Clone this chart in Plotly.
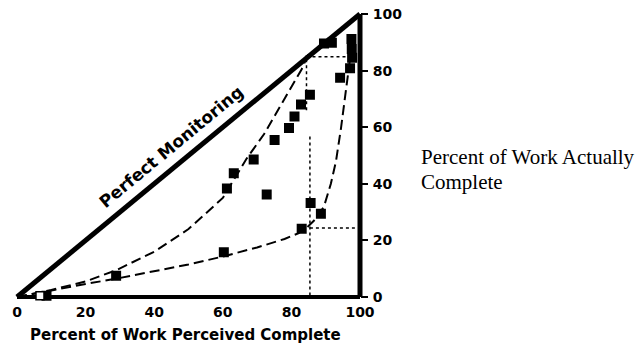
import math
import plotly.graph_objects as go

# Observed projects: percent of work perceived complete vs. actually complete
perceived = [8.6, 28.9, 60.3, 61.2, 63.2, 69.0, 72.8, 75.1, 79.3, 80.9, 82.8, 85.4,
             83.0, 85.6, 88.6, 89.5, 91.8, 94.2, 97.1, 97.5, 97.6, 97.7]
actual = [0.4, 7.5, 15.8, 38.3, 43.7, 48.6, 36.2, 55.5, 59.7, 63.8, 68.0, 71.5,
          24.1, 33.2, 29.4, 89.6, 89.8, 77.5, 80.8, 91.2, 87.6, 84.5]
open_perceived = [6.7]
open_actual = [0.4]

# Fitted trend curves (dashed)
upper_x = [0, 5, 10, 20, 29, 40, 50, 55, 60, 63, 67, 72, 76, 80, 83, 85]
upper_y = [0, 1.2, 2.5, 5.5, 9.5, 16, 24, 29.5, 35, 41, 49, 57.5, 66, 74.5, 80.5, 86]
lower_x = [0, 5, 10, 20, 29, 40, 50, 60, 70, 78, 82, 84.5, 87, 89.5, 91.5, 93, 94.5, 96, 97.3]
lower_y = [0, 1.2, 2.3, 4.6, 6.5, 9, 11.5, 14.3, 17.5, 20.5, 22.5, 24.5, 27.5, 32, 40, 48, 60, 74, 86]

# Reference (dotted) guide lines
guide_vert_low_x = [85.4, 85.4]
guide_vert_low_y = [0.5, 57]
guide_vert_high_x = [84.4, 84.4]
guide_vert_high_y = [66, 85.5]
guide_h85_x = [84.4, 96.5]
guide_h85_y = [84.9, 84.9]
guide_h24_x = [85.4, 98.5]
guide_h24_y = [24.4, 24.4]

# Perfect monitoring diagonal and frame
diag_x = [0, 100]
diag_y = [0, 100]
base_x = [0, 100]
base_y = [0, 0]
right_x = [100, 100]
right_y = [0, 100]

tick_vals = [0, 20, 40, 60, 80, 100]
tick_text = ["0", "20", "40", "60", "80", "100"]

W, H = 644, 353
X0PX, X100PX = 17.0, 360.0
Y0PX, Y100PX = 297.0, 14.0
sx = (X100PX - X0PX) / 100.0
sy = (Y0PX - Y100PX) / 100.0
XR = [-4, 105]
YR = [-5, 104]

xdom = [(X0PX + XR[0] * sx) / W, (X0PX + XR[1] * sx) / W]
ydom = [1 - (Y0PX - YR[0] * sy) / H, 1 - (Y0PX - YR[1] * sy) / H]

bold = dict(family="DejaVu Sans", size=14, color="black", weight="bold")

fig = go.Figure()

dash_line = dict(color="black", width=2, dash="10px,5px")
dot_line = dict(color="black", width=1.5, dash="dot")

fig.add_trace(go.Scatter(x=upper_x, y=upper_y, mode="lines", line=dash_line))
fig.add_trace(go.Scatter(x=lower_x, y=lower_y, mode="lines", line=dash_line))
for gx, gy in [(guide_vert_low_x, guide_vert_low_y), (guide_vert_high_x, guide_vert_high_y),
               (guide_h85_x, guide_h85_y), (guide_h24_x, guide_h24_y)]:
    fig.add_trace(go.Scatter(x=gx, y=gy, mode="lines", line=dot_line))

fig.add_trace(go.Scatter(x=diag_x, y=diag_y, mode="lines",
                         line=dict(color="black", width=5)))
fig.add_trace(go.Scatter(x=base_x, y=base_y, mode="lines",
                         line=dict(color="black", width=4)))
fig.add_trace(go.Scatter(x=right_x, y=right_y, mode="lines",
                         line=dict(color="black", width=5)))

fig.add_trace(go.Scatter(x=perceived, y=actual, mode="markers",
                         marker=dict(symbol="square", size=10, color="black",
                                     line=dict(width=0))))
fig.add_trace(go.Scatter(x=open_perceived, y=open_actual, mode="markers",
                         marker=dict(symbol="square", size=8, color="white",
                                     line=dict(width=1.5, color="black"))))

# carrier for the right-hand value axis
fig.add_trace(go.Scatter(x=[50], y=[50], yaxis="y2", mode="markers",
                         marker=dict(opacity=0), hoverinfo="skip"))

fig.update_traces(showlegend=False)

fig.update_layout(
    width=W, height=H,
    margin=dict(l=0, r=0, t=0, b=0),
    paper_bgcolor="white", plot_bgcolor="white",
    xaxis=dict(domain=xdom, range=XR, anchor="free", position=1 - Y0PX / H,
               showgrid=False, zeroline=False, showline=False,
               tickvals=tick_vals, ticktext=tick_text, ticks="",
               ticklabelstandoff=5, tickfont=bold),
    yaxis=dict(domain=ydom, range=YR, showgrid=False, zeroline=False,
               showline=False, showticklabels=False, ticks=""),
    yaxis2=dict(domain=ydom, range=YR, overlaying="y", anchor="free", side="right",
                position=X100PX / W, showgrid=False, zeroline=False, showline=False,
                tickvals=tick_vals, ticktext=tick_text, ticks="outside", ticklen=7,
                tickwidth=1.5, tickcolor="black", ticklabelstandoff=2, tickfont=bold),
)

# Diagonal label
ang = -math.degrees(math.atan2(sy, sx))
fig.add_annotation(x=44.8, y=53.1, xref="x", yref="y", text="Perfect Monitoring",
                   textangle=ang, showarrow=False,
                   font=dict(family="DejaVu Sans", size=17, color="black", weight="bold"))

# Axis titles
fig.add_annotation(x=49.1, y=1 - 335 / H, xref="x", yref="paper",
                   text="Percent of Work Perceived Complete", showarrow=False,
                   xanchor="center", yanchor="middle",
                   font=dict(family="DejaVu Sans", size=15, color="black", weight="bold"))
serif = dict(family="Liberation Serif", size=21, color="black")
fig.add_annotation(x=419 / W, y=1 - 157 / H, xref="paper", yref="paper",
                   text="Percent of Work Actually", showarrow=False,
                   xanchor="left", yanchor="middle", font=serif)
fig.add_annotation(x=419 / W, y=1 - 182 / H, xref="paper", yref="paper",
                   text="Complete", showarrow=False,
                   xanchor="left", yanchor="middle", font=serif)

fig.write_html("out.html")
